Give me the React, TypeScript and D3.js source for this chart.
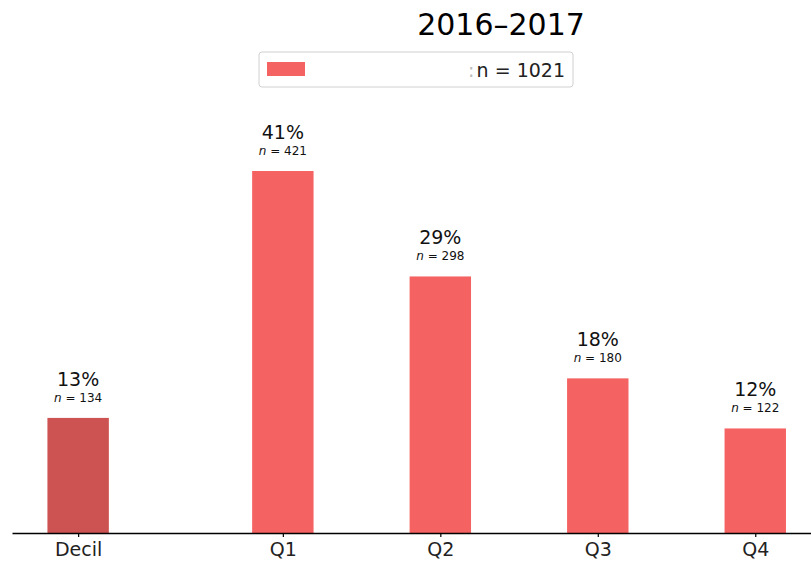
import React, { useEffect, useRef } from 'react';
import * as d3 from 'd3';

const categories = ['Decil', 'Q1', 'Q2', 'Q3', 'Q4'];
const positions = [0, 1.3, 2.3, 3.3, 4.3];
const shares = [13.1, 41.2, 29.2, 17.6, 11.9];
const shareLabels = ['13%', '41%', '29%', '18%', '12%'];
const counts = [134, 421, 298, 180, 122];
const barColors = ['#cd5252', '#f56262', '#f56262', '#f56262', '#f56262'];
const title = '2016–2017';
const legendCount = 1021;

const width = 811;
const height = 563;

const App: React.FC = () => {
  const svgRef = useRef<SVGSVGElement>(null);

  useEffect(() => {
    if (!svgRef.current) return;
    const svg = d3.select(svgRef.current);
    svg.selectAll('*').remove();

    const font = '"DejaVu Sans", sans-serif';
    const baseY = 533;

    const x = d3.scaleLinear().domain([-0.42, 4.654]).range([12, 811]);
    const y = d3.scaleLinear().domain([0, 45]).range([baseY, baseY - 45 * 8.786]);
    const barW = x(0.39) - x(0);

    // bars
    const g = svg.append('g');
    g.selectAll('rect.bar')
      .data(shares)
      .join('rect')
      .attr('class', 'bar')
      .attr('x', (_, i) => x(positions[i]) - barW / 2)
      .attr('y', d => y(d))
      .attr('width', barW)
      .attr('height', d => baseY - y(d))
      .attr('fill', (_, i) => barColors[i]);

    // value labels
    g.selectAll('text.pct')
      .data(shares)
      .join('text')
      .attr('class', 'pct')
      .attr('x', (_, i) => x(positions[i]))
      .attr('y', d => y(d) - 32)
      .attr('text-anchor', 'middle')
      .attr('font-family', font)
      .attr('font-size', 19)
      .attr('fill', '#111')
      .text((_, i) => shareLabels[i]);

    const nLabels = g.selectAll('text.n')
      .data(shares)
      .join('text')
      .attr('class', 'n')
      .attr('x', (_, i) => x(positions[i]))
      .attr('y', d => y(d) - 16)
      .attr('text-anchor', 'middle')
      .attr('font-family', font)
      .attr('font-size', 12)
      .attr('fill', '#111');
    nLabels.append('tspan').attr('font-style', 'italic').text('n');
    nLabels.append('tspan').text((_, i) => ` = ${counts[i]}`);

    // x axis
    const axis = d3.axisBottom(x)
      .tickValues(positions)
      .tickFormat((_, i) => categories[i])
      .tickSize(4)
      .tickSizeOuter(0);
    const ax = svg.append('g')
      .attr('transform', `translate(0,${baseY})`)
      .call(axis);
    ax.select('.domain').attr('stroke', '#000').attr('stroke-width', 1.6);
    ax.selectAll('.tick line').attr('stroke', '#000').attr('stroke-width', 1.2);
    ax.selectAll('.tick text')
      .attr('font-family', font)
      .attr('font-size', 19)
      .attr('fill', '#222')
      .attr('dy', '0.85em');

    // title
    svg.append('text')
      .attr('x', 501)
      .attr('y', 35)
      .attr('text-anchor', 'middle')
      .attr('font-family', font)
      .attr('font-size', 30)
      .attr('fill', '#000')
      .text(title);

    // legend
    const lg = svg.append('g').attr('transform', 'translate(259,52)');
    lg.append('rect')
      .attr('width', 314)
      .attr('height', 35)
      .attr('rx', 3)
      .attr('fill', '#fff')
      .attr('stroke', '#d0d0d0');
    lg.append('rect')
      .attr('x', 8)
      .attr('y', 10)
      .attr('width', 38)
      .attr('height', 14)
      .attr('fill', barColors[1]);
    lg.append('text')
      .attr('x', 209)
      .attr('y', 25)
      .attr('font-family', font)
      .attr('font-size', 19)
      .attr('fill', '#bbb')
      .text(':');
    lg.append('text')
      .attr('x', 306)
      .attr('y', 25)
      .attr('text-anchor', 'end')
      .attr('font-family', font)
      .attr('font-size', 19)
      .attr('fill', '#222')
      .text(`n = ${legendCount}`);
  }, []);

  return (
    <svg
      ref={svgRef}
      width={width}
      height={height}
      style={{ position: 'absolute', left: 0, top: 0, background: '#fff' }}
    />
  );
};

export default App;
